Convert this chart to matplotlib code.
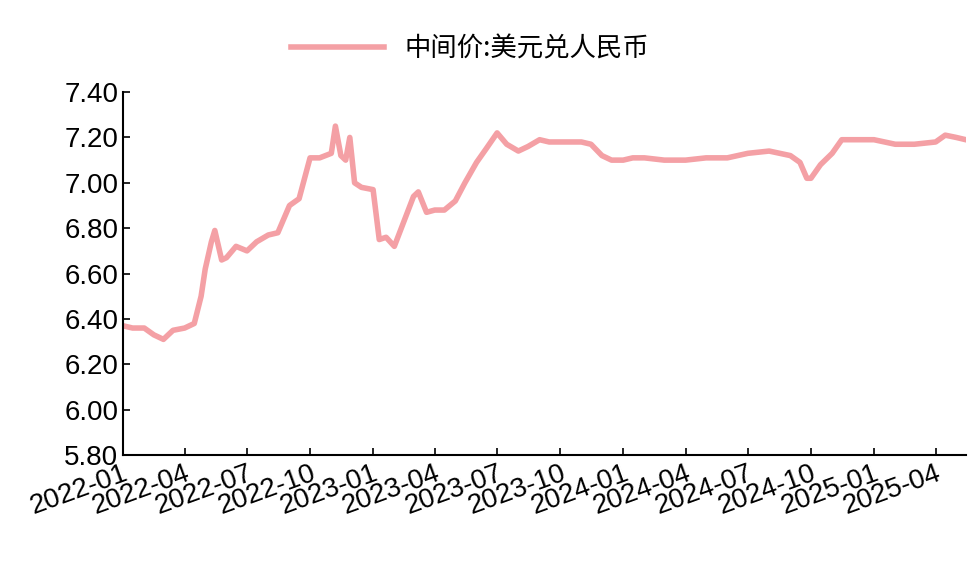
import matplotlib
matplotlib.use("Agg")
import matplotlib.pyplot as plt
import pandas as pd

plt.rcParams['font.family'] = ['Liberation Sans', 'Noto Sans CJK SC', 'DejaVu Sans']

dates = ["2022-01-01", "2022-01-15", "2022-02-01", "2022-02-15", "2022-03-01", "2022-03-15",
         "2022-04-01", "2022-04-15", "2022-04-25", "2022-05-01", "2022-05-10", "2022-05-15",
         "2022-05-25", "2022-06-01", "2022-06-15", "2022-07-01", "2022-07-15", "2022-08-01",
         "2022-08-15", "2022-09-01", "2022-09-15", "2022-10-01", "2022-10-15", "2022-11-01",
         "2022-11-07", "2022-11-15", "2022-11-22", "2022-11-28", "2022-12-05", "2022-12-15",
         "2023-01-01", "2023-01-10", "2023-01-20", "2023-02-01", "2023-02-15", "2023-03-01",
         "2023-03-08", "2023-03-20", "2023-04-01", "2023-04-15", "2023-05-01", "2023-05-15",
         "2023-06-01", "2023-06-15", "2023-07-01", "2023-07-15", "2023-08-01", "2023-08-15",
         "2023-09-01", "2023-09-15", "2023-10-01", "2023-10-15", "2023-11-01", "2023-11-15",
         "2023-12-01", "2023-12-15", "2024-01-01", "2024-01-15", "2024-02-01", "2024-03-01",
         "2024-04-01", "2024-05-01", "2024-06-01", "2024-07-01", "2024-08-01", "2024-09-01",
         "2024-09-15", "2024-09-25", "2024-10-01", "2024-10-15", "2024-11-01", "2024-11-15",
         "2024-12-01", "2025-01-01", "2025-02-01", "2025-03-01", "2025-04-01", "2025-04-15",
         "2025-05-01", "2025-05-15"]
values = [6.37, 6.36, 6.36, 6.33, 6.31, 6.35,
          6.36, 6.38, 6.50, 6.62, 6.74, 6.79,
          6.66, 6.67, 6.72, 6.70, 6.74, 6.77,
          6.78, 6.90, 6.93, 7.11, 7.11, 7.13,
          7.25, 7.12, 7.10, 7.20, 7.00, 6.98,
          6.97, 6.75, 6.76, 6.72, 6.83, 6.94,
          6.96, 6.87, 6.88, 6.88, 6.92, 7.00,
          7.09, 7.15, 7.22, 7.17, 7.14, 7.16,
          7.19, 7.18, 7.18, 7.18, 7.18, 7.17,
          7.12, 7.10, 7.10, 7.11, 7.11, 7.10,
          7.10, 7.11, 7.11, 7.13, 7.14, 7.12,
          7.09, 7.02, 7.02, 7.08, 7.13, 7.19,
          7.19, 7.19, 7.17, 7.17, 7.18, 7.21,
          7.20, 7.19]
tick_dates = ["2022-01", "2022-04", "2022-07", "2022-10", "2023-01", "2023-04", "2023-07",
              "2023-10", "2024-01", "2024-04", "2024-07", "2024-10", "2025-01", "2025-04"]
yticks = [5.80, 6.00, 6.20, 6.40, 6.60, 6.80, 7.00, 7.20, 7.40]

x = pd.to_datetime(dates)
fig = plt.figure(figsize=(9.8, 5.79), dpi=100)
ax = fig.add_axes([0.1255, 0.214, 0.86, 0.627])
ax.plot(x, values, color="#F4A0A5", lw=4, label="中间价:美元兑人民币")
ax.set_xlim(pd.Timestamp("2022-01-01"), pd.Timestamp("2025-05-15"))
ax.set_ylim(5.80, 7.40)
ax.set_yticks(yticks)
ax.set_yticklabels([f"{v:.2f}" for v in yticks], fontsize=20)
ax.set_xticks(pd.to_datetime(tick_dates))
ax.set_xticklabels(tick_dates, fontsize=20, rotation=20, ha="right", rotation_mode="anchor")
for s in ["top", "right"]:
    ax.spines[s].set_visible(False)
ax.spines["left"].set_linewidth(1.5)
ax.spines["bottom"].set_linewidth(1.5)
ax.tick_params(direction="in", length=5, width=1.2)
fig.legend(loc="upper center", bbox_to_anchor=(0.48, 0.98), frameon=False,
           prop={"family": ["Noto Sans CJK SC"], "size": 19}, handlelength=3.5)
fig.savefig("out.png", dpi=100)
